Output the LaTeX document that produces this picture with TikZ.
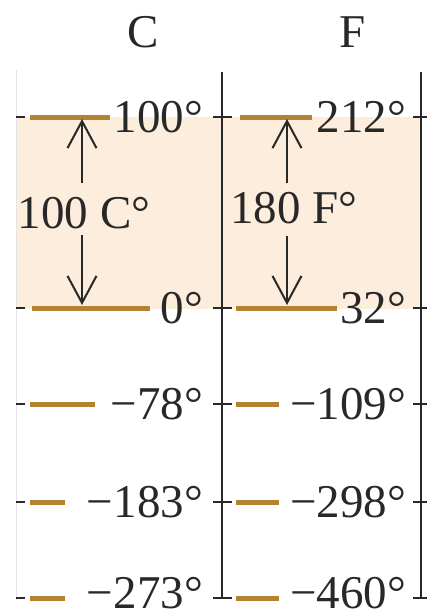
\documentclass[tikz,border=0pt]{standalone}
\usepackage{fontspec}
\setmainfont{Liberation Serif}
\usetikzlibrary{arrows.meta}
\definecolor{peach}{RGB}{253,237,220}
\definecolor{barc}{RGB}{178,131,50}
\definecolor{ink}{RGB}{40,40,40}
\begin{document}
\begin{tikzpicture}[x=1pt,y=-1pt,
  lbl/.style={font=\fontsize{47}{52}\selectfont, text=ink, inner sep=0pt},
  rlbl/.style={lbl, anchor=base east},
  barline/.style={draw=barc, line width=5pt},
  axis/.style={draw=ink, line width=2.3pt},
  tickmark/.style={draw=ink, line width=2.3pt},
  arr/.style={draw=ink, line width=2pt, -{Straight Barb[length=27pt,width=29pt,line width=2pt]}}]
\useasboundingbox (0,0) rectangle (427,614);
\fill[peach] (16,117) rectangle (421,309);
\draw[black!10, line width=0.6pt] (16,70) -- (16,600);
\draw[axis] (222,72) -- (222,598);
\draw[axis] (421,72) -- (421,598);
\foreach \yy in {117,308,404,502,598}{
  \draw[tickmark] (16,\yy) -- (25,\yy);
  \draw[tickmark] (213,\yy) -- (232,\yy);
  \draw[tickmark] (413,\yy) -- (427,\yy);
}
% bars C
\draw[barline] (30,117) -- (110,117);
\draw[barline] (32,308) -- (150,308);
\draw[barline] (30,404) -- (95,404);
\draw[barline] (30,502) -- (65,502);
\draw[barline] (30,598) -- (65,598);
% bars F
\draw[barline] (240,117) -- (312,117);
\draw[barline] (236,308) -- (337,308);
\draw[barline] (236,404) -- (279,404);
\draw[barline] (236,502) -- (279,502);
\draw[barline] (236,598) -- (279,598);
% headers
\node[lbl, anchor=base] (hc) at (143,47) {C};
\node[lbl, anchor=base] (hf) at (353,47) {F};
% C labels
\node[rlbl] (c100) at (203,132) {100°};
\node[rlbl] (c0) at (203,323) {0°};
\node[rlbl] (c78) at (203,419) {−78°};
\node[rlbl] (c183) at (203,517) {−183°};
\node[rlbl] (c273) at (203,608) {−273°};
% F labels
\node[rlbl] (f212) at (406,132) {212°};
\node[rlbl] (f32) at (406,323) {32°};
\node[rlbl] (f109) at (406,419) {−109°};
\node[rlbl] (f298) at (406,517) {−298°};
\node[rlbl] (f460) at (406,608) {−460°};
% difference labels and arrows
\node[lbl, anchor=base] (cdiff) at (84,228) {100 C°};
\node[lbl, anchor=base] (fdiff) at (294,223) {180 F°};
\coordinate (cua) at (82,183);
\coordinate (cut) at (82,119);
\coordinate (cda) at (82,235);
\coordinate (cdt) at (82,305);
\coordinate (fua) at (287,183);
\coordinate (fut) at (287,119);
\coordinate (fda) at (287,236);
\coordinate (fdt) at (287,305);
\draw[arr] (cua) -- (cut);
\draw[arr] (cda) -- (cdt);
\draw[arr] (fua) -- (fut);
\draw[arr] (fda) -- (fdt);
\end{tikzpicture}
\end{document}
